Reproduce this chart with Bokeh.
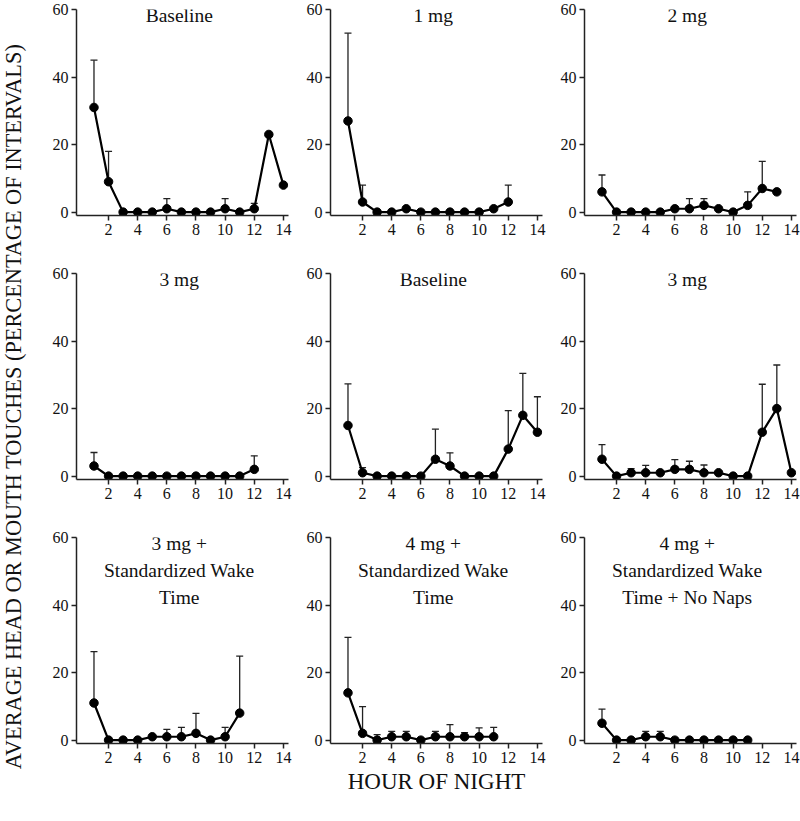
import math
from bokeh.plotting import figure
from bokeh.models import ColumnDataSource, Whisker, TeeHead, Label, FixedTicker, Range1d
from bokeh.layouts import row, column
from bokeh.embed import file_html
from bokeh.resources import INLINE

hours = list(range(1, 15))
x_ticks = [2, 4, 6, 8, 10, 12, 14]
y_ticks = [0, 20, 40, 60]

titles = [
    "Baseline", "1 mg", "2 mg",
    "3 mg", "Baseline", "3 mg",
    "3 mg +\nStandardized Wake\nTime",
    "4 mg +\nStandardized Wake\nTime",
    "4 mg +\nStandardized Wake\nTime + No Naps",
]

baseline1_mean = [31, 9, 0, 0, 0, 1, 0, 0, 0, 1, 0, 1, 23, 8]
baseline1_err = [45, 18, None, None, None, 4, None, None, None, 4, None, 2.6, None, None]

mg1_mean = [27, 3, 0, 0, 1, 0, 0, 0, 0, 0, 1, 3]
mg1_err = [53, 8, None, None, None, None, None, None, None, None, None, 8]

mg2_mean = [6, 0, 0, 0, 0, 1, 1, 2, 1, 0, 2, 7, 6]
mg2_err = [11, None, None, None, None, None, 4, 4, None, None, 6, 15, None]

mg3a_mean = [3, 0, 0, 0, 0, 0, 0, 0, 0, 0, 0, 2]
mg3a_err = [7, None, None, None, None, None, None, None, None, None, None, 6]

baseline2_mean = [15, 1, 0, 0, 0, 0, 5, 3, 0, 0, 0, 8, 18, 13]
baseline2_err = [27.3, 2.5, None, None, None, None, 13.9, 6.9, None, None, None, 19.4, 30.4, 23.5]

mg3b_mean = [5, 0, 1, 1, 1, 2, 2, 1, 1, 0, 0, 13, 20, 1]
mg3b_err = [9.3, None, 2.2, 3.2, None, 4.9, 4.4, 3.3, None, None, None, 27.2, 32.9, None]

mg3_swt_mean = [11, 0, 0, 0, 1, 1, 1, 2, 0, 1, 8]
mg3_swt_err = [26.2, None, None, None, None, 3.2, 3.8, 7.9, None, 3.8, 24.9]

mg4_swt_mean = [14, 2, 0, 1, 1, 0, 1, 1, 1, 1, 1]
mg4_swt_err = [30.4, 9.9, 1.6, 2.6, 2.6, None, 2.6, 4.6, 2.2, 3.6, 3.8]

mg4_swt_nn_mean = [5, 0, 0, 1, 1, 0, 0, 0, 0, 0, 0]
mg4_swt_nn_err = [9.2, None, None, 2.6, 2.6, None, None, None, None, None, None]

series = [
    (baseline1_mean, baseline1_err), (mg1_mean, mg1_err), (mg2_mean, mg2_err),
    (mg3a_mean, mg3a_err), (baseline2_mean, baseline2_err), (mg3b_mean, mg3b_err),
    (mg3_swt_mean, mg3_swt_err), (mg4_swt_mean, mg4_swt_err), (mg4_swt_nn_mean, mg4_swt_nn_err),
]

x_title = "HOUR OF NIGHT"
y_title = "AVERAGE HEAD OR MOUTH TOUCHES (PERCENTAGE OF INTERVALS)"

FONT = "Liberation Serif"
INK = "#111111"


def make_panel(title, mean, err, border_top, border_bottom, border_right):
    p = figure(frame_width=212, frame_height=206,
               min_border_left=36, min_border_right=border_right,
               min_border_top=border_top, min_border_bottom=border_bottom,
               x_range=Range1d(-0.2, 14.35), y_range=Range1d(-1, 60),
               toolbar_location=None, tools="", output_backend="svg")
    p.grid.visible = False
    p.outline_line_color = None
    p.xaxis.ticker = FixedTicker(ticks=x_ticks)
    p.yaxis.ticker = FixedTicker(ticks=y_ticks)
    p.axis.axis_line_color = "#222222"
    p.axis.axis_line_width = 1.5
    p.axis.major_tick_line_color = "#222222"
    p.axis.major_tick_line_width = 1.5
    p.axis.major_tick_out = 5
    p.axis.major_tick_in = 0
    p.axis.minor_tick_line_color = None
    p.axis.major_label_text_font = FONT
    p.axis.major_label_text_font_size = "16px"
    p.axis.major_label_text_color = INK
    p.axis.major_label_standoff = 3

    xs = hours[:len(mean)]
    ex = [x for x, e in zip(xs, err) if e is not None]
    ey = [m for m, e in zip(mean, err) if e is not None]
    eu = [e for e in err if e is not None]
    src = ColumnDataSource(dict(x=ex, lower=ey, upper=eu))
    w = Whisker(base="x", lower="lower", upper="upper", source=src, dimension="height",
                line_color="#222222", line_width=1.3,
                upper_head=TeeHead(size=7, line_color="#222222", line_width=1.3),
                lower_head=None)
    p.add_layout(w)

    p.line(xs, mean, line_color="black", line_width=2.2)
    p.scatter(xs, mean, size=8.5, fill_color="black", line_color="black")

    p.add_layout(Label(x=6.85, y=61.3, text=title, text_align="center", text_baseline="top",
                       text_font=FONT, text_font_size="19.5px", text_color=INK,
                       text_line_height=1.28))
    return p


panels = []
for i, (t, (m, e)) in enumerate(zip(titles, series)):
    r, c = divmod(i, 3)
    top = 9 if r == 0 else 14
    bottom = 44 if r < 2 else 58
    right = 6 if c < 2 else 4
    panels.append(make_panel(t, m, e, top, bottom, right))

# overall x-axis title, as the axis label of the bottom-centre panel
bx = panels[7].xaxis[0]
bx.axis_label = x_title
bx.axis_label_text_font = FONT
bx.axis_label_text_font_size = "23px"
bx.axis_label_text_font_style = "normal"
bx.axis_label_text_color = INK
bx.axis_label_standoff = 3

grid = column(row(*panels[0:3]), row(*panels[3:6]), row(*panels[6:9]))

total_h = (9 + 206 + 44) + (14 + 206 + 44) + (14 + 206 + 58)
yl = figure(width=40, height=total_h, x_range=Range1d(0, 40), y_range=Range1d(0, total_h),
            toolbar_location=None, tools="", output_backend="svg", min_border=0)
yl.axis.visible = False
yl.grid.visible = False
yl.outline_line_color = None
yl.add_layout(Label(x=13, y=total_h - 406, text=y_title,
                    angle=math.pi / 2, text_align="center", text_baseline="middle",
                    text_font=FONT, text_font_size="22.3px", text_color=INK))

layout = row(yl, grid)

open("out.html", "w").write(file_html(layout, INLINE))
